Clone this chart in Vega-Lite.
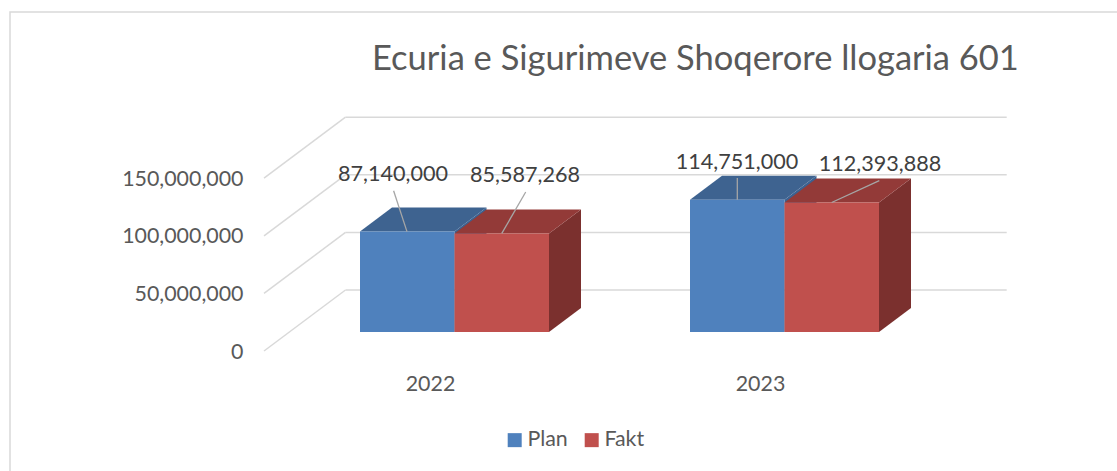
{
"$schema":"https://vega.github.io/schema/vega-lite/v6.json",
"width":1107,"height":459,
"autosize":{"type":"none"},
"padding":{"left":10,"top":12,"right":0,"bottom":0},
"background":"white",
"title":{"text":"Ecuria e Sigurimeve Shoqerore llogaria 601","anchor":"start","frame":"group","dx":362,"dy":35,"offset":-57,"baseline":"alphabetic","font":"Lato","fontSize":34.5,"fontWeight":"normal","color":"#595959"},
"config":{"view":{"stroke":"#d9d9d9","strokeWidth":1.5,"strokeDash":[1107,1566,459]},"font":"Lato"},
"datasets":{
"bars":[
{"year":2022,"series":"Plan","value":87140000},
{"year":2022,"series":"Fakt","value":85587268},
{"year":2023,"series":"Plan","value":114751000},
{"year":2023,"series":"Fakt","value":112393888}],
"ticks":[{"tick":0},{"tick":50000000},{"tick":100000000},{"tick":150000000}]},
"data":{"name":"bars"},
"transform":[
{"calculate":"datum.series==='Plan'?datum.year-0.28636:datum.year","as":"x0"},
{"calculate":"datum.x0+0.28636","as":"x1"},
{"calculate":"datum.series+datum.year","as":"k"}],
"layer":[
{"data":{"name":"ticks"},"transform":[{"calculate":"datum.tick+36458333","as":"back"}],
"mark":{"type":"rule","color":"#d9d9d9","strokeWidth":1.5},
"encoding":{
"x":{"datum":2021.6697,"type":"quantitative","scale":{"domain":[2020.65303,2024.00758],"nice":false,"zero":false},"axis":{"values":[2022,2023],"format":"d","title":null,"domain":false,"ticks":false,"grid":false,"labelOffset":-24.5,"offset":-98,"labelPadding":0,"labelFont":"Lato","labelFontSize":21.4,"labelColor":"#595959","labelOverlap":false,"labelFlush":false}},
"x2":{"datum":2023.67333},
"y":{"field":"back","type":"quantitative","scale":{"domain":[-120659722,277777778],"nice":false,"zero":false},"axis":{"values":[0,50000000,100000000,150000000],"format":",d","title":null,"domain":false,"ticks":false,"grid":false,"labelOffset":20,"offset":-233,"labelPadding":0,"labelFont":"Lato","labelFontSize":21.4,"labelColor":"#595959","labelOverlap":false,"labelFlush":false}}}},
{"data":{"name":"ticks"},"transform":[{"calculate":"datum.tick+36458333","as":"back"},{"calculate":"datum.tick-16493056","as":"front"}],
"mark":{"type":"rule","color":"#d9d9d9","strokeWidth":1.5},
"encoding":{
"x":{"datum":2021.42273,"type":"quantitative","scale":{"domain":[2020.65303,2024.00758],"nice":false,"zero":false}},
"x2":{"datum":2021.6697},
"y":{"field":"front","type":"quantitative","scale":{"domain":[-120659722,277777778],"nice":false,"zero":false}},
"y2":{"field":"back"}}},
{"transform":[
{"calculate":"[datum.x1,datum.x1+0.09697]","as":"sx"},
{"calculate":"[datum.value,datum.value+20833333]","as":"sy"},
{"calculate":"[0,20833333]","as":"sy2"},
{"flatten":["sx","sy","sy2"]}],
"mark":{"type":"area","orient":"vertical"},
"encoding":{
"x":{"field":"sx","type":"quantitative","scale":{"domain":[2020.65303,2024.00758],"nice":false,"zero":false}},
"y":{"field":"sy","type":"quantitative","stack":null,"scale":{"domain":[-120659722,277777778],"nice":false,"zero":false}},
"y2":{"field":"sy2"},
"detail":{"field":"k"},
"fill":{"condition":{"test":"datum.series==='Plan'","value":"#3b6291"},"value":"#7b302e"}}},
{"transform":[
{"calculate":"[datum.x0,datum.x0+0.09697,datum.x1,datum.x1+0.09697]","as":"tx"},
{"calculate":"[datum.value,datum.value+20833333,datum.value+20833333,datum.value+20833333]","as":"ty"},
{"calculate":"[datum.value,datum.value,datum.value,datum.value+20833333]","as":"ty2"},
{"flatten":["tx","ty","ty2"]}],
"mark":{"type":"area","orient":"vertical"},
"encoding":{
"x":{"field":"tx","type":"quantitative","scale":{"domain":[2020.65303,2024.00758],"nice":false,"zero":false}},
"y":{"field":"ty","type":"quantitative","stack":null,"scale":{"domain":[-120659722,277777778],"nice":false,"zero":false}},
"y2":{"field":"ty2"},
"detail":{"field":"k"},
"fill":{"condition":{"test":"datum.series==='Plan'","value":"#3e6390"},"value":"#933a38"}}},
{"mark":{"type":"rect"},
"encoding":{
"x":{"field":"x0","type":"quantitative","scale":{"domain":[2020.65303,2024.00758],"nice":false,"zero":false}},
"x2":{"field":"x1"},
"y":{"field":"value","type":"quantitative","stack":null,"scale":{"domain":[-120659722,277777778],"nice":false,"zero":false}},
"y2":{"datum":0},
"color":{"field":"series","type":"nominal","sort":["Plan","Fakt"],"scale":{"domain":["Plan","Fakt"],"range":["#4f81bd","#c0504d"]},
"legend":{"title":null,"orient":"none","legendX":494,"legendY":417,"direction":"horizontal","symbolType":"square","symbolSize":196,"symbolStrokeWidth":0,"labelFont":"Lato","labelFontSize":21.4,"labelColor":"#595959","columnPadding":13,"labelOffset":2}}}},
{"transform":[
{"calculate":"({Plan2022:2021.8155,Fakt2022:2022.2158,Plan2023:2022.857,Fakt2023:2023.2873})[datum.k]","as":"ax"},
{"calculate":"({Plan2022:122660000,Fakt2022:121530000,Plan2023:133680000,Fakt2023:131340000})[datum.k]","as":"ay"},
{"calculate":"({Plan2022:2021.856,Fakt2022:2022.1433,Plan2023:2022.857,Fakt2023:2023.143})[datum.k]","as":"bx"}],
"mark":{"type":"rule","color":"#a6a6a6","strokeWidth":1.3},
"encoding":{
"x":{"field":"ax","type":"quantitative","scale":{"domain":[2020.65303,2024.00758],"nice":false,"zero":false}},
"x2":{"field":"bx"},
"y":{"field":"ay","type":"quantitative","scale":{"domain":[-120659722,277777778],"nice":false,"zero":false}},
"y2":{"field":"value"}}},
{"transform":[
{"calculate":"({Plan2022:2021.8136,Fakt2022:2022.2136,Plan2023:2022.8561,Fakt2023:2023.2894})[datum.k]","as":"lx"},
{"calculate":"({Plan2022:138000000,Fakt2022:136300000,Plan2023:148400000,Fakt2023:146700000})[datum.k]","as":"ly"}],
"mark":{"type":"text","font":"Lato","fontSize":21.6,"color":"#404040","align":"center","baseline":"middle","dy":1.5},
"encoding":{
"x":{"field":"lx","type":"quantitative","scale":{"domain":[2020.65303,2024.00758],"nice":false,"zero":false}},
"y":{"field":"ly","type":"quantitative","scale":{"domain":[-120659722,277777778],"nice":false,"zero":false}},
"text":{"field":"value","type":"quantitative","format":","}}}
]
}
